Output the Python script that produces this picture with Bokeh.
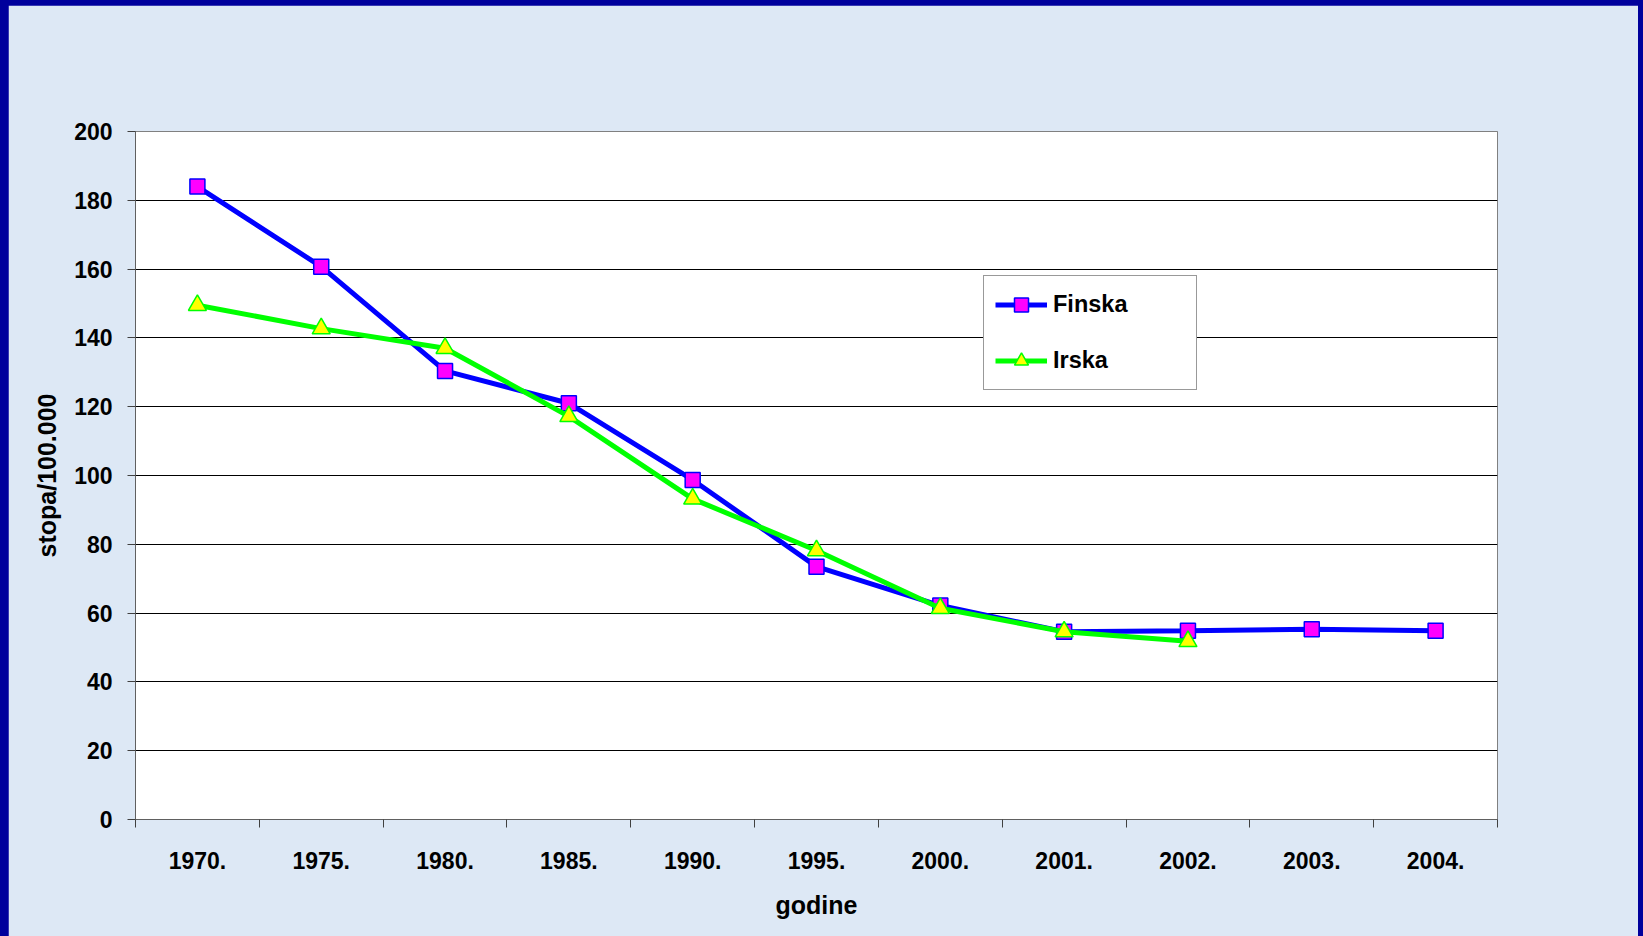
from bokeh.plotting import figure
from bokeh.models import (Range1d, FixedTicker, Legend, LegendItem,
                          GlobalInlineStyleSheet)
from bokeh.embed import file_html
from bokeh.resources import INLINE

# ---- data ----
years = ["1970.", "1975.", "1980.", "1985.", "1990.", "1995.",
         "2000.", "2001.", "2002.", "2003.", "2004."]
finska = [184.0, 160.7, 130.4, 121.0, 98.7, 73.5, 62.2, 54.6, 54.9, 55.3, 54.9]
irska = [149.5, 142.7, 137.0, 117.2, 93.2, 78.2, 61.4, 54.6, 51.8]
y_ticks = [0, 20, 40, 60, 80, 100, 120, 140, 160, 180, 200]

FONT = "Liberation Sans"
BG = "#DDE8F5"
EDGE = "#00009C"

idx = list(range(len(years)))
idx_ir = idx[:len(irska)]

p = figure(width=1630, height=931,
           x_range=Range1d(-0.5, len(years) - 0.5),
           y_range=Range1d(y_ticks[0], y_ticks[-1]),
           output_backend="svg", toolbar_location=None,
           min_border_left=127, min_border_right=141,
           min_border_top=126, min_border_bottom=117,
           background_fill_color="white", border_fill_color=BG,
           outline_line_color="#808080", outline_line_width=1)

p.stylesheets = [GlobalInlineStyleSheet(
    css="html, body { background-color: %s; margin: 0; overflow: hidden; } "
        "body { padding: 5px 0 0 8px; }" % EDGE)]

# x axis: labels at category centres, ticks at boundaries
p.xaxis.ticker = FixedTicker(ticks=idx, minor_ticks=[i - 0.5 for i in range(len(years) + 1)])
p.xaxis.major_label_overrides = {i: y for i, y in zip(idx, years)}
p.xaxis.major_tick_out = 0
p.xaxis.major_tick_in = 0
p.xaxis.minor_tick_out = 8
p.xaxis.minor_tick_in = 0
p.xaxis.minor_tick_line_color = "#404040"
p.xaxis.axis_line_color = "#606060"
p.xaxis.major_label_standoff = 24
p.xaxis.axis_label = "godine"
p.xaxis.axis_label_standoff = 19

# y axis
p.yaxis.ticker = FixedTicker(ticks=y_ticks, minor_ticks=[])
p.yaxis.major_tick_out = 8
p.yaxis.major_tick_in = 0
p.yaxis.major_tick_line_color = "#404040"
p.yaxis.axis_line_color = "#606060"
p.yaxis.major_label_standoff = 15
p.yaxis.axis_label = "stopa/100.000"
p.yaxis.axis_label_standoff = 10

for ax in (p.xaxis, p.yaxis):
    ax.major_label_text_font = FONT
    ax.major_label_text_font_size = "23px"
    ax.major_label_text_font_style = "bold"
    ax.major_label_text_color = "black"
    ax.axis_label_text_font = FONT
    ax.axis_label_text_font_size = "25px"
    ax.axis_label_text_font_style = "bold"
    ax.axis_label_text_color = "black"

p.xgrid.visible = False
p.ygrid.ticker = FixedTicker(ticks=y_ticks)
p.ygrid.grid_line_color = "black"
p.ygrid.grid_line_width = 1

# series
fl = p.line(idx, finska, line_color="#0000FF", line_width=5)
fs = p.scatter(idx, finska, marker="square", size=15,
               fill_color="#FF00FF", line_color="#0000FF", line_width=1.5)
il = p.line(idx_ir, irska, line_color="#00FF00", line_width=5)
isc = p.scatter(idx_ir, irska, marker="triangle", size=18,
                fill_color="#FFFF00", line_color="#00FF00", line_width=1.5)

legend = Legend(items=[LegendItem(label="Finska", renderers=[fl, fs]),
                       LegendItem(label="Irska", renderers=[il, isc])],
                location=(848, 429), orientation="vertical",
                padding=11, spacing=21, margin=0,
                glyph_width=52, glyph_height=35,
                label_height=35, label_width=132, label_standoff=6,
                border_line_color="#333333", border_line_width=1,
                background_fill_color="white", background_fill_alpha=1,
                label_text_font=FONT, label_text_font_size="23.5px",
                label_text_font_style="bold", label_text_color="black")
p.add_layout(legend)

open("out.html", "w").write(file_html(p, INLINE))
